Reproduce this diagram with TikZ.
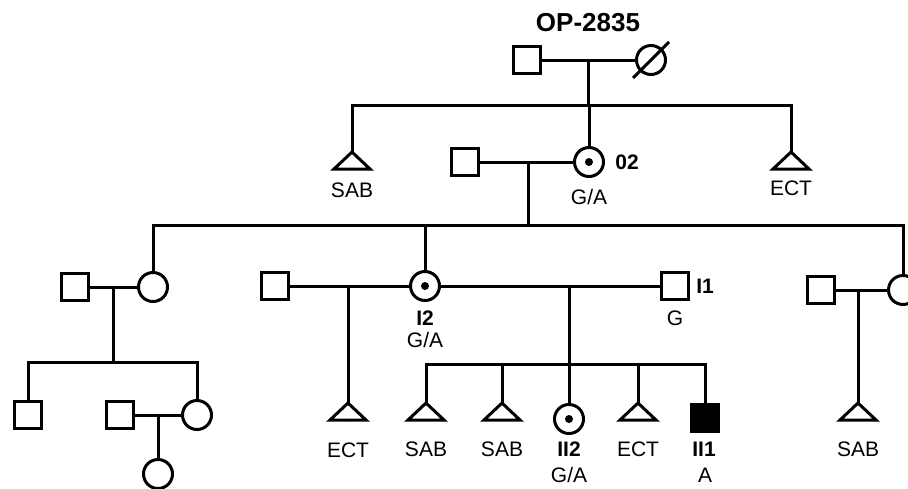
\documentclass[tikz,border=0pt]{standalone}
\usepackage{fontspec}
\setmainfont{Liberation Sans}
\newcommand{\abtri}[1]{\draw (#1) -- ++(-18,17) -- ++(36,0) -- cycle;}
\begin{document}
\begin{tikzpicture}[x=0.5pt,y=-0.5pt,line width=1.5pt,
  male/.style={draw,rectangle,minimum size=13.5pt,inner sep=0pt},
  female/.style={draw,circle,minimum size=14.5pt,inner sep=0pt},
  carrier/.style={female,path picture={\fill (path picture bounding box.center) circle (2pt);}},
  affected/.style={male,fill=black},
  lbl/.style={font=\fontsize{10.5}{12}\selectfont,inner sep=0pt},
  blbl/.style={inner sep=0pt,font=\fontsize{10.5}{12}\selectfont\bfseries}]
\clip (0,0) rectangle (908,488);
\node[inner sep=0pt,font=\fontsize{13}{15}\selectfont\bfseries] (title) at (588,23) {OP-2835};
% first couple
\node[male] (a1) at (527,60) {};
\node[female] (a2) at (651,60) {};
\draw (a2) ++(-18,18) -- ++(36,-36);
\draw (a1) -- (a2);
\coordinate (u0) at (588,60);
\coordinate (s0l) at (352,105);
\coordinate (s0r) at (791,105);
\coordinate (t1) at (352,152);
\coordinate (t2) at (791,152);
\draw (u0) -- (u0 |- s0l);
\draw (t1) -- (s0l) -- (s0r) -- (t2);
\abtri{t1}
\abtri{t2}
\node[lbl] (l1) at (352,190) {SAB};
\node[lbl] (l2) at (791,188) {ECT};
\node[carrier] (o2) at (589,162) {};
\node[male] (b1) at (465,162) {};
\draw (o2) -- (o2 |- s0l);
\draw (b1) -- (o2);
\node[blbl] (l3) at (627,162) {02};
\node[lbl] (l4) at (589,197) {G/A};
%
\coordinate (u1) at (528,162);
\coordinate (s1l) at (153,225);
\coordinate (s1r) at (903,225);
\node[female] (c1) at (153,287) {};
\node[male] (c0) at (75,287) {};
\node[carrier] (i2) at (425,286) {};
\node[male] (d0) at (275,286) {};
\node[male] (i1) at (675,286) {};
\node[female] (e1) at (903,290) {};
\node[male] (e0) at (821,290) {};
\draw (u1) -- (u1 |- s1l);
\draw (c1) -- (s1l) -- (s1r) -- (e1);
\draw (i2) -- (i2 |- s1l);
\draw (c0) -- (c1);
\draw (d0) -- (i2) -- (i1);
\draw (e0) -- (e1);
\node[blbl] (l5) at (425,318) {I2};
\node[lbl] (l6) at (425,340) {G/A};
\node[blbl] (l7) at (705,286) {I1};
\node[lbl] (l8) at (675,318) {G};
% left branch
\coordinate (u2) at (113,287);
\coordinate (s2l) at (28,362);
\coordinate (s2r) at (197,362);
\node[male] (f1) at (28,415) {};
\node[female] (f2) at (197,415) {};
\node[male] (f3) at (120,415) {};
\draw (u2) -- (u2 |- s2l);
\draw (f1) -- (s2l) -- (s2r) -- (f2);
\draw (f3) -- (f2);
\coordinate (u3) at (158,415);
\node[female] (g1) at (158,474) {};
\draw (u3) -- (g1);
% middle branch
\coordinate (u4) at (348,286);
\coordinate (t3) at (348,403);
\draw (u4) -- (t3);
\abtri{t3}
\node[lbl] (l9) at (348,450) {ECT};
\coordinate (u5) at (569,286);
\coordinate (s3l) at (426,364);
\coordinate (s3r) at (705,364);
\coordinate (t4) at (426,403);
\coordinate (t5) at (502,403);
\coordinate (t6) at (638,403);
\node[carrier] (h1) at (569,419) {};
\node[affected] (h2) at (705,418) {};
\draw (t4) -- (s3l) -- (s3r) -- (h2);
\draw (u5) -- (h1);
\draw (t5) -- (t5 |- s3l);
\draw (t6) -- (t6 |- s3l);
\abtri{t4}
\abtri{t5}
\abtri{t6}
\node[lbl] (l10) at (426,449) {SAB};
\node[lbl] (l11) at (502,449) {SAB};
\node[blbl] (l12) at (569,449) {II2};
\node[lbl] (l13) at (569,475) {G/A};
\node[lbl] (l14) at (638,449) {ECT};
\node[blbl] (l15) at (704,449) {II1};
\node[lbl] (l16) at (705,475) {A};
% right branch
\coordinate (u6) at (858,290);
\coordinate (t7) at (858,403);
\draw (u6) -- (t7);
\abtri{t7}
\node[lbl] (l17) at (858,449) {SAB};
\end{tikzpicture}
\end{document}
